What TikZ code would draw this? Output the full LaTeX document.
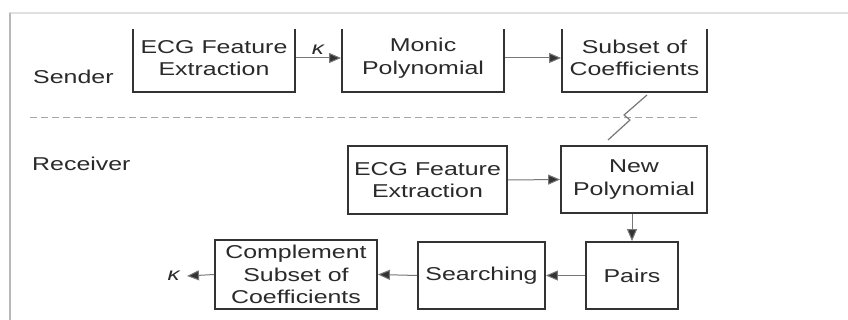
\documentclass[tikz,border=0pt]{standalone}
\usepackage{fontspec}
\setmainfont[FakeStretch=1.34]{Liberation Sans}
\usetikzlibrary{arrows.meta}
\definecolor{boxc}{HTML}{333333}
\definecolor{txtc}{HTML}{2A2A2A}
\definecolor{linec}{HTML}{777777}
\tikzset{
  box/.style={draw=boxc, line width=1.8pt, align=center, text=txtc,
    font=\fontsize{18.6}{22.5}\selectfont, inner sep=0pt},
  lbl/.style={text=txtc, font=\fontsize{18.6}{22.5}\selectfont, inner sep=0pt},
  kap/.style={text=txtc, font=\fontsize{18}{20}\selectfont\itshape, inner sep=0pt},
  flow/.style={draw=linec, line width=1pt, -{Triangle[length=12pt,width=10pt,fill=boxc]}},
}
\begin{document}
\begin{tikzpicture}[x=1pt,y=-1pt]
\useasboundingbox (0,0) rectangle (848,320);
\fill[white] (0,0) rectangle (848,320);
% frame of the screenshot
\draw[draw=black!12, line width=1.5pt] (9,13) -- (848,13);
\draw[draw=black!28, line width=2pt] (10,13) -- (10,320);
% sender row (tops cut off)
\begin{scope}
\clip (0,30) rectangle (848,320);
\node[box, minimum width=162pt, minimum height=68pt] (ecg1) at (214,58) {ECG Feature\\Extraction};
\node[box, minimum width=162pt, minimum height=68pt] (monic) at (423,58) {Monic\\Polynomial};
\node[box, minimum width=145pt, minimum height=68pt] (subset) at (634.5,58) {Subset of\\Coefficients};
\end{scope}
\node[lbl, anchor=west] (sender) at (33,77) {Sender};
\node[kap] (k1) at (318,50) {κ};
\draw[flow] (ecg1.east) -- (monic.west);
\draw[flow] (monic.east) -- (subset.west);
% separator
\draw[draw=black!35, line width=1pt, dash pattern=on 7pt off 4pt] (30,118) -- (700,118);
% lightning
\coordinate (l1) at (647,95);
\coordinate (l2) at (624,115);
\coordinate (l3) at (630,120);
\coordinate (l4) at (608,140);
\draw[draw=linec, line width=1.2pt, line join=round] (l1) -- (l2) -- (l3) -- (l4);
% receiver
\node[lbl, anchor=west] (receiver) at (32,164) {Receiver};
\node[box, minimum width=159pt, minimum height=68pt] (ecg2) at (427.5,180) {ECG Feature\\Extraction};
\node[box, minimum width=146pt, minimum height=67pt] (newp) at (634,179.5) {New\\Polynomial};
\node[box, minimum width=92pt, minimum height=67pt] (pairs) at (632,275.5) {Pairs};
\node[box, minimum width=127pt, minimum height=67pt] (search) at (481.5,275.5) {Searching};
\node[box, minimum width=162pt, minimum height=69pt] (compl) at (296,274.5) {Complement\\Subset of\\Coefficients};
\node[kap, anchor=east] (k2) at (180,276) {κ};
\draw[flow] (ecg2.east) -- (newp.west);
\draw[flow] (newp.south -| pairs.north) -- (pairs.north);
\draw[flow] (pairs.west) -- (search.east);
\draw[flow] (search.west) -- (compl.east);
\draw[flow] (compl.west) -- ([xshift=7pt]k2.east);
\end{tikzpicture}
\end{document}
